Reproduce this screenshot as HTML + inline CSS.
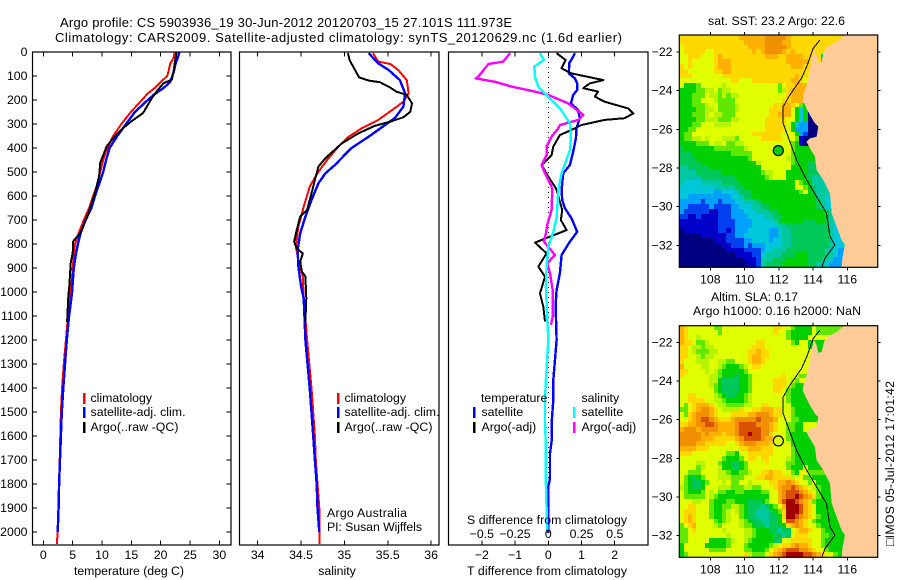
<!DOCTYPE html>
<html>
<head>
<meta charset="utf-8">
<title>Argo profile</title>
<style>
html,body{margin:0;padding:0;background:#fff;}
svg{display:block;}
text{font-family:"Liberation Sans",sans-serif;font-size:12.3px;fill:#000;}
</style>
</head>
<body>
<svg id="fig" xmlns="http://www.w3.org/2000/svg" width="900" height="580" viewBox="0 0 900 580">
<defs>
<clipPath id="clip-map1"><rect x="679.3" y="35" width="198.4" height="232.3"/></clipPath>
<clipPath id="clip-map2"><rect x="679.3" y="325.7" width="198.4" height="231.6"/></clipPath>
</defs>
<text x="60" y="27" style="font-size:13px" textLength="452" lengthAdjust="spacing">Argo profile: CS 5903936_19 30-Jun-2012 20120703_15 27.101S 111.973E</text>
<text x="55" y="42" style="font-size:13px" textLength="567" lengthAdjust="spacing">Climatology: CARS2009. Satellite-adjusted climatology: synTS_20120629.nc (1.6d earlier)</text>

<g id="p1"></g>
<g id="p2"></g>
<g id="p3"></g>
<g id="m1"></g>
<g id="m2"></g>

<text x="129" y="575" text-anchor="middle" textLength="110" lengthAdjust="spacing">temperature (deg C)</text>
<text x="337" y="575" text-anchor="middle">salinity</text>
<text x="547" y="575" text-anchor="middle" textLength="160" lengthAdjust="spacing">T difference from climatology</text>
<text x="547" y="524" text-anchor="middle" textLength="160" lengthAdjust="spacing">S difference from climatology</text>

<g>
<rect x="83" y="393" width="2.5" height="11" fill="#ff0000"/>
<rect x="83" y="407" width="2.5" height="11" fill="#0000ff"/>
<rect x="83" y="422" width="2.5" height="11" fill="#000"/>
<text x="90.5" y="402">climatology</text>
<text x="90.5" y="416" textLength="95" lengthAdjust="spacing">satellite-adj. clim.</text>
<text x="90.5" y="431" textLength="88" lengthAdjust="spacing">Argo(..raw -QC)</text>
</g>
<g>
<rect x="337" y="393" width="2.5" height="11" fill="#ff0000"/>
<rect x="337" y="407" width="2.5" height="11" fill="#0000ff"/>
<rect x="337" y="422" width="2.5" height="11" fill="#000"/>
<text x="344.5" y="402">climatology</text>
<text x="344.5" y="416" textLength="95" lengthAdjust="spacing">satellite-adj. clim.</text>
<text x="344.5" y="431" textLength="88" lengthAdjust="spacing">Argo(..raw -QC)</text>
<text x="327" y="517" textLength="80" lengthAdjust="spacing">Argo Australia</text>
<text x="327" y="531" textLength="95" lengthAdjust="spacing">PI: Susan Wijffels</text>
</g>
<g>
<text x="481" y="402">temperature</text>
<text x="581.5" y="402">salinity</text>
<rect x="473" y="407" width="2.5" height="11" fill="#0000ff"/>
<rect x="473" y="422" width="2.5" height="11" fill="#000"/>
<rect x="573" y="407" width="2.5" height="11" fill="#00ffff"/>
<rect x="573" y="422" width="2.5" height="11" fill="#ff00ff"/>
<text x="481.5" y="416">satellite</text>
<text x="481.5" y="431">Argo(-adj)</text>
<text x="581.5" y="416">satellite</text>
<text x="581.5" y="431">Argo(-adj)</text>
</g>

<text x="708" y="25" textLength="137" lengthAdjust="spacing">sat. SST: 23.2  Argo: 22.6</text>
<text x="711" y="301" textLength="87" lengthAdjust="spacing">Altim. SLA: 0.17</text>
<text x="693" y="315" textLength="168" lengthAdjust="spacing">Argo h1000: 0.16 h2000: NaN</text>
<text transform="translate(894,546) rotate(-90)" textLength="165" lengthAdjust="spacing">□IMOS 05-Jul-2012 17:01:42</text>
</svg>

<script>
// ---------- axis labels ----------
const depthTicks = [0,100,200,300,400,500,600,700,800,900,1000,1100,1200,1300,1400,1500,1600,1700,1800,1900,2000];
const tempTicks = [0,5,10,15,20,25,30];
const salTicks = [34,34.5,35,35.5,36];
const salTickLabels = ['34','34.5','35','35.5','36'];
const tDiffTicks = [-2,-1,0,1,2];
const sDiffTicks = [-0.5,-0.25,0,0.25,0.5];
const sDiffLabels = ['\u22120.5','\u22120.25','0','0.25','0.5'];
const tDiffLabels = ['\u22122','\u22121','0','1','2'];
const lonTicks = [108,110,112,114,116];
const latTicks = [-22,-24,-26,-28,-30,-32];

// ---------- temperature profiles ----------
const climDepth = [0,25,50,75,100,125,150,175,200,250,300,350,400,450,500,550,600,650,700,750,800,850,900,950,1000,1100,1200,1300,1400,1500,1600,1700,1800,1900,2000,2050];
const tempClim = [22.4,22.2,21.6,21.4,21.1,20,19,17.7,16.8,14.9,13.3,11.9,10.9,10.2,9.7,9.2,8.5,7.8,6.9,6.1,5.4,5.2,5.0,4.85,4.6,4.2,3.85,3.5,3.2,3.0,2.9,2.8,2.65,2.55,2.45,2.3];
const tempSat = [23.2,22.9,22.5,22.3,22,21.6,20.5,19,17.8,15.6,14.1,12.6,11.3,10.7,10.2,9.5,8.8,8.2,7.2,6.4,5.9,5.5,5.2,5.05,4.9,4.4,4.0,3.7,3.4,3.15,3.0,2.85,2.7,2.6,2.45];
const tempArgoDepth = [0,46,80,115,130,164,192,254,289,317,351,393,462,518,588,670,747,789,837,880,976,1018,1125];
const tempArgo = [22.7,22.4,22.2,21.9,20.5,19.3,18.5,17,15,13.6,12.2,10.8,9.7,9.5,8.8,7.7,6.5,5.1,5.0,4.66,4.43,4.26,4.05];

// ---------- salinity profiles ----------
const salClimDepth = [5,40,50,75,117,172,207,242,283,318,353,394,450,499,561,644,728,811,867,936,1019,1200,1400,1500,1600,1700,1800,1900,2000,2050];
const salClim = [35.33,35.39,35.53,35.62,35.72,35.74,35.68,35.55,35.39,35.2,35.05,34.93,34.8,34.7,34.6,34.53,34.47,34.44,34.47,34.52,34.53,34.57,34.62,34.64,34.66,34.67,34.69,34.71,34.71,34.71];
const salSatDepth = [5,47,75,117,172,228,276,314,353,401,471,506,547,617,686,756,825,894,978,1026,1200,1400,1500,1600,1700,1800,1900,2000];
const salSat = [35.28,35.39,35.51,35.64,35.7,35.68,35.58,35.43,35.28,35.08,34.89,34.78,34.7,34.62,34.55,34.49,34.46,34.47,34.5,34.53,34.55,34.6,34.62,34.64,34.66,34.68,34.69,34.71];
const salArgoDepth = [5,33,61,106,119,126,144,165,179,214,249,272,290,308,339,381,443,478,533,589,658,686,742,790,818,839,874,915,936,1026,1125];
const salArgo = [35.04,35.06,35.1,35.17,35.28,35.41,35.51,35.6,35.72,35.78,35.76,35.68,35.53,35.35,35.16,34.97,34.78,34.7,34.66,34.62,34.57,34.49,34.45,34.42,34.45,34.52,34.49,34.51,34.55,34.56,34.55];

// ---------- difference profiles ----------
const dTSatDepth = [5,19,47,89,110,131,158,179,214,242,276,318,360,415,471,506,575,617,651,693,749,790,846,922,992,1054,1200,1367,1450,1547,1622,1672,1776,1811,2005];
const dTSat = [.8,.75,.63,.62,.8,.87,.87,.75,.68,.9,.95,.85,.83,.75,.65,.45,.4,.42,.5,.7,.87,.65,.4,.35,.25,.22,.25,.15,.15,.1,.1,.05,.05,0,0];
const dTArgoDepth = [5,33,68,89,117,131,151,165,186,207,235,256,276,283,304,325,346,394,429,471,519,561,575,658,700,742,783,794,839,894,936,1006,1061,1123];
const dTArgo = [.25,.52,.4,.7,1.66,1.25,1.05,1.5,1.4,1.7,2.4,2.56,2.3,1.7,1,.7,.35,.15,.1,-.2,0,.2,.25,.42,.38,.55,-.2,-.4,-.05,-.3,-.1,-.25,-.15,-.1];
const dSSatDepth = [5,33,61,103,144,179,235,297,353,408,506,575,686,749,811,894,978,1047,1200,1367,1450,1547,1644,1798,1992];
const dSSat = [-.063,-.033,-.105,-.1,-.075,-.013,.088,.163,.17,.163,.1,.075,.063,.038,0,-.013,-.018,-.013,0,-.018,-.025,-.025,-.018,-.018,-.008];
const dSArgoDepth = [5,40,50,103,110,124,144,165,179,214,262,283,304,318,353,394,429,471,506,561,575,658,714,756,790,846,881,922,992,1103,1137];
const dSArgo = [-.288,-.338,-.45,-.526,-.546,-.4,-.276,-.1,0,.15,.263,.226,.088,.075,.025,-.013,-.013,-.05,-.025,.025,.03,.025,-.005,-.018,-.033,.05,-.008,.013,.033,.033,.02];
const zeroLineDepths = [0,2054];

// ---------- map values: one character per 0.25 degree cell, colour level 0-f ----------
const levelColors = ['#000080','#0000c8','#0040f0','#00a0ff','#00c8d8','#00c8a0','#00c858','#00d000','#60e800','#b8f400','#e0ff00','#ffd800','#ffb000','#f09000','#d85000','#a00000'];
const sstCells = [
"bbbbbbbbbbbbbbccccccdddddcbbbbbbbbbbbbcc76",
"bbbbbbbbbbbbbbbcccccddddccbbbbbbbbbbbcc766",
"abbbbbbbbbbbbbbbccccdddddcbbbbbbbbbb776666",
"abbbbbaabbbbbbbbbcbcddddcbcbbbbbbb87766666",
"aabbbaaabcbbbbbbbbbbcccbbccccbbbb676666666",
"aabaaaaabcccbbbbbbbbbbbbbcccccbbb666666666",
"babaaaaabcccbbbbbbbbbbbbbbcccbbbb666666666",
"bbaaaaaabbccbbbbbbbbbbbbbbbbbbbb6666666666",
"bbbaaaaaaabbbbbbbbbbbbbbbbbcbbaa6666666666",
"aaaaaaaaaaaabbaaabbbbbbbbbccbaa66666666666",
"a7778aaaaa9aaaaaaaaaaaa8abbcccaa",
"77778899a899aaaaaaaaaaa89bccccaa",
"777888a9989899aaaaaaaaaaabccccaa",
"77788aaa98888aaaaaaaaaaabbcccaa8",
"7778889aa88889aaaaaaaabbccba8741",
"77778899a88889aaaaaaabbbcca7474",
"7778889a99888aaaaaaaabbccca7471",
"77778899988899aaaaaabbbbbaa74700",
"77788aaa9999aaaaaaaabbbbba7433000",
"7788aaaaaaaaaaaaaaaabbbbba7333000",
"788aaaaaaaaaaaaaabbbbbbbaaa73200",
"78899a9aaa9998aaaaabbbbbaaa810000",
"7777888a99a8899aaaaaaaaaaa8710",
"6777777788888889aaaaaaaaaa877",
"66677777777788888aaaaaaaaa8777",
"66667777777777778aaaaaaaa98777",
"6666677777777777779aaaaaaa87776",
"5566666777777777777aaaaaaa77776",
"5555666666777777777899aaa777776",
"5555566666666777777789aaa7777765",
"544445555566667777777777777a8775",
"444444445555566777777777777aa8765",
"44444444334445666777777777778a7655",
"44333333333344566777777777777777554",
"33333233323334455567777777777777654",
"33222223222233444556677777777777654",
"3222222112223334445556677777777777654",
"2211211112223333444455667777777777654",
"11111111122223333444445677777666776544",
"11111111122223333444444556666666666544",
"01111111122123334444433455666666666544",
"00000111111223344444433455666666666544",
"00000000111222233444434455666666666544",
"00000000001122232333444455666666666544",
"00000000000111122223445556666666665443",
"00000000000001111224555566677766665543",
"00000000000000011125556667777766655433",
"00000000000000001125666677777766554333"
];
const slaCells = [
"cbaaaaaa88aaaaaaaaaaaabbaa87777a8",
"cbaaaaaaa8aaaaaaaaaaaabaa877777a8",
"cbaa9aaaaaaaaaaaaaaaaaaaa87777a",
"cbba889aaaaaaaaaaabbaaaaaa87aa77777",
"bba99899aaaaaaaaabbbaaaaaaaaaa77777",
"bba988899aaaaaaabbcbbaaaaaaaaaa8777",
"bbaa9899aaaaaaaabccbbaaaaaaaaa",
"baaa999aa9988aaabccbaaaaaaaaaa",
"caaaa99aa9877789abbaaaaaaaaaa",
"bbaaaa9a98777778aaaaaaaaaaaa",
"baaaaaa9987776778aaaaaaabaaa8",
"aaaaaaa9976666778aaaaabbba98a",
"aaaaaaa9876666778aaaaabbba87",
"aaaaaaaa876666778aaaaabba877",
"aabbaaaa987667789aaaaaaaa877",
"aabbbbaa998777789aaaaaaaa8777",
"a8abcccba99888899aabbaaaaa7777",
"88abcddcba9999baabbcccbbaa8777",
"a8bcdddcbaaabbbbccdddcbbaa8777",
"aabcdeedcbbbcdddddedddcaaa8877",
"bbccddeedccccdeeeedddcbaa8877a",
"cdddcddddccccdeeeeeddcbaa8877a",
"dddddcdcccbccdeefeeddbaaa8777",
"dddddcccbbbbbcdeeeedccbaa87777",
"ddddccbbbbbaabcdddcccbaaaa7777",
"ccccbbbaaaaaaabbcccbbbaaaa87777",
"bbbaaaaaaaa887aabbbbbbaaaa87777",
"aaaaaaaaaa87778abbabbaaaa987777",
"aaaa99aaa8776678aaaabaaaa8877777",
"aaaa89aaa9776678aaaaaaaaa8777a7",
"aa888aaaa99877889aabbcbbaa87aa88",
"a87678aaa999888aaabbccbbbb9aa887",
"a876678aaa9a88aa9aaaabbccdcbaa8a7",
"987667aaa9998889988aaabcddedcba987",
"a87778a9a887788777788aacdeeedcba87",
"a88888a98777777777777aacdeefedcb87",
"aaa99aa87778877766678aaceffedcb877",
"aabbaaa8778899876665678acfffecba77",
"abbbaaa87789a98766555678bfffecba77",
"abcbaaa87789aa8766555667bffedcba87",
"abcbaaaa8789aa9876655667aeedcba877",
"8abcaaaa98aaaa98876656667bcdcbaa877",
"88abaaaaaa9aaaa99877766566abccbaa877",
"88aaaaaaaaa9aaa99877776656abbbaaa8877",
"88aaaaa777789aa987777766aabbbbbaa877",
"7aaaaa777778aaa87777789abbcdccbaa877",
"7aaaaaa8888aaaa887778abcdeeeddcbaa87",
"78aaaaaaaaaaaaab9888abcdeffffeedcbaa87"
];

// ---------- coastline and 200 m isobath as lon, lat pairs ----------
const coastLon = [115.87,115.38,114.79,114.64,114.50,114.31,114.21,114.05,113.92,113.82,113.72,113.47,113.39,113.62,113.82,114.11,114.31,114.21,113.82,113.62,113.82,114.11,114.21,114.60,114.99,115.09,115.38,115.67,115.87,115.73,115.67,117.78,117.78];
const coastLat = [-21.12,-21.47,-21.76,-21.98,-22.5,-22.55,-22.16,-21.86,-22.41,-22.84,-23.45,-24.14,-24.48,-24.91,-25.26,-25.69,-25.86,-26.38,-26.47,-26.64,-26.98,-27.41,-28.10,-28.62,-29.31,-30.34,-31.03,-31.72,-31.98,-32.59,-33.14,-33.14,-21.12];
const isoLon = [114.40,114.01,113.63,113.33,112.65,112.26,112.26,112.65,113.04,113.63,114.21,114.79,114.99,115.28,114.70,114.50];
const isoLat = [-21.38,-21.81,-22.76,-23.36,-24.22,-24.83,-25.69,-26.64,-27.59,-28.62,-29.48,-30.34,-31.55,-31.98,-32.67,-33.14];
const floatLon = 111.973;
const floatLat = -27.101;
const floatLevelSst = 7;
const floatLevelSla = 10;

// ---------- scales ----------
const NS = 'http://www.w3.org/2000/svg';
const yDepth = d => 52 + 0.24 * d;
const xTemp = v => 43.3 + 5.87 * v;
const xSal = v => 257.7 + 86.7 * (v - 34);
const xDT = v => 548.3 + 33.2 * v;
const xDS = v => 548.3 + 133 * v;
const xLon = v => 710.3 + 17.12 * (v - 108);
const yLat = (v, y22) => y22 + 19.33 * (-22 - v);

function add(parent, tag, props) {
  const e = document.createElementNS(NS, tag);
  for (const k in props) e.setAttribute(k, props[k]);
  parent.appendChild(e);
  return e;
}
function frame(parent, x, y, w, h) {
  const r = add(parent, 'rect', {x, y, width: w, height: h, fill: 'none', stroke: '#000', 'stroke-width': 1.2});
  
  
}
function tick(parent, x1, y1, x2, y2) {
  const t = add(parent, 'line', {x1, y1, x2, y2, stroke: '#000', 'stroke-width': 1, 'shape-rendering': 'crispEdges'});
  
  
}
function label(parent, x, y, s, anchor) {
  const t = add(parent, 'text', {x, y, 'text-anchor': anchor});
  t.textContent = s;
  
  
}
function series(parent, xs, depths, xf, color, width, name) {
  const n = Math.min(xs.length, depths.length);
  const pts = [];
  for (let i = 0; i < n; i++) pts.push(xf(xs[i]).toFixed(1) + ',' + yDepth(depths[i]).toFixed(1));
  const p = add(parent, 'polyline', {points: pts.join(' '), fill: 'none', stroke: color, 'stroke-width': width, 'stroke-linejoin': 'round', 'shape-rendering': 'crispEdges'});
  
  
}

// temperature panel
const p1 = document.getElementById('p1');
series(p1, tempClim, climDepth, xTemp, '#ff0000', 2, 'temperature-climatology-line');
series(p1, tempSat, climDepth, xTemp, '#0000ff', 2.4, 'temperature-satellite-line');
series(p1, tempArgo, tempArgoDepth, xTemp, '#000000', 2, 'temperature-argo-line');
frame(p1, 32.5, 52, 198.5, 493);
depthTicks.forEach(d => {
  tick(p1, 32.5, yDepth(d), 37, yDepth(d));
  tick(p1, 226.5, yDepth(d), 231, yDepth(d));
  label(p1, 27.5, yDepth(d) + 4, String(d), 'end');
});
tempTicks.forEach(v => {
  tick(p1, xTemp(v), 52, xTemp(v), 56.5);
  tick(p1, xTemp(v), 540.5, xTemp(v), 545);
  label(p1, xTemp(v), 559, String(v), 'middle');
});

// salinity panel
const p2 = document.getElementById('p2');
series(p2, salClim, salClimDepth, xSal, '#ff0000', 2, 'salinity-climatology-line');
series(p2, salSat, salSatDepth, xSal, '#0000ff', 2.4, 'salinity-satellite-line');
series(p2, salArgo, salArgoDepth, xSal, '#000000', 2, 'salinity-argo-line');
frame(p2, 239.5, 52, 199.5, 493);
salTicks.forEach((v, i) => {
  tick(p2, xSal(v), 52, xSal(v), 56.5);
  tick(p2, xSal(v), 540.5, xSal(v), 545);
  label(p2, xSal(v), 559, salTickLabels[i], 'middle');
});

// difference panel
const p3 = document.getElementById('p3');
const zero = add(p3, 'line', {x1: xDT(0), x2: xDT(0), y1: yDepth(zeroLineDepths[0]), y2: yDepth(zeroLineDepths[1]), stroke: '#000', 'stroke-width': 1, 'stroke-dasharray': '1 4', 'shape-rendering': 'crispEdges'});


series(p3, dTSat, dTSatDepth, xDT, '#0000ff', 2.4, 't-difference-satellite-line');
series(p3, dTArgo, dTArgoDepth, xDT, '#000000', 2, 't-difference-argo-line');
series(p3, dSArgo, dSArgoDepth, xDS, '#ff00ff', 2.4, 's-difference-argo-line');
series(p3, dSSat, dSSatDepth, xDS, '#00ffff', 2.4, 's-difference-satellite-line');
frame(p3, 448.5, 52, 199.5, 493);
tDiffTicks.forEach((v, i) => {
  tick(p3, xDT(v), 52, xDT(v), 56.5);
  tick(p3, xDT(v), 540.5, xDT(v), 545);
  label(p3, xDT(v), 559, tDiffLabels[i], 'middle');
});
sDiffTicks.forEach((v, i) => {
  label(p3, xDS(v), 538, sDiffLabels[i], 'middle');
});

// maps
function drawMap(gid, cells, top, bottom, y22, clipId, dotLevel) {
  const g = document.getElementById(gid);
  const cg = add(g, 'g', {'clip-path': 'url(#' + clipId + ')', 'shape-rendering': 'crispEdges'});
  
  
  const lon0 = 106.19, lat0 = -21.12, step = 0.25;
  for (let r = 0; r < cells.length; r++) {
    const row = cells[r];
    for (let c = 0; c < 47; c++) {
      const ch = c < row.length ? row[c] : row[row.length - 1];
      const x0 = Math.round(xLon(lon0 + c * step));
      const x1 = Math.round(xLon(lon0 + (c + 1) * step));
      const y0 = Math.round(yLat(lat0 - r * step, y22));
      const y1 = Math.round(yLat(lat0 - (r + 1) * step, y22)) + (r === cells.length - 1 ? 2 : 0);
      const cell = add(cg, 'rect', {x: x0, y: y0, width: x1 - x0, height: y1 - y0, fill: levelColors[parseInt(ch, 16)]});
      
      
    }
  }
  const land = add(g, 'polygon', {points: coastLon.map((v, i) => xLon(v).toFixed(1) + ',' + yLat(coastLat[i], y22).toFixed(1)).join(' '), fill: '#ffcc99', 'clip-path': 'url(#' + clipId + ')', 'shape-rendering': 'crispEdges'});
  
  
  const iso = add(g, 'polyline', {points: isoLon.map((v, i) => xLon(v).toFixed(1) + ',' + yLat(isoLat[i], y22).toFixed(1)).join(' '), fill: 'none', stroke: '#000', 'stroke-width': 1, 'clip-path': 'url(#' + clipId + ')', 'shape-rendering': 'crispEdges'});
  
  
  const dot = add(g, 'circle', {cx: xLon(floatLon), cy: yLat(floatLat, y22), r: 5, fill: levelColors[dotLevel], stroke: '#000', 'stroke-width': 1.2});
  
  
  frame(g, 679.3, top, 198.4, bottom - top);
  lonTicks.forEach(v => {
    tick(g, xLon(v), top - 3, xLon(v), top);
    tick(g, xLon(v), bottom, xLon(v), bottom + 3);
    label(g, xLon(v), bottom + 16, String(v), 'middle');
  });
  latTicks.forEach(v => {
    const y = yLat(v, y22);
    tick(g, 676.3, y, 679.3, y);
    tick(g, 877.7, y, 880.7, y);
    label(g, 672.5, y + 4, '\u2212' + Math.abs(v), 'end');
  });
}
drawMap('m1', sstCells, 35, 267.3, 52, 'clip-map1', floatLevelSst);
drawMap('m2', slaCells, 325.7, 557.3, 342.3, 'clip-map2', floatLevelSla);
</script>
</body>
</html>
